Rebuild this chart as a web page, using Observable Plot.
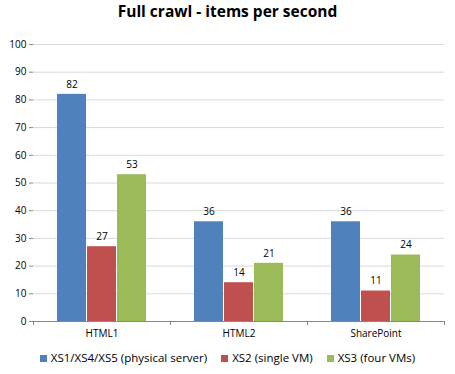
<!DOCTYPE html>
<html><head><meta charset="utf-8">
<script src="https://cdn.jsdelivr.net/npm/d3@7"></script>
<script src="https://cdn.jsdelivr.net/npm/@observablehq/plot@0.6"></script>
<style>
body{margin:0;background:#fff;font-family:"Open Sans",sans-serif;}
#wrap{width:455px;height:374px;position:relative;}
#title{height:34px;line-height:40px;text-align:center;font:bold 15.5px "Open Sans",sans-serif;color:#000;}
#legend{display:flex;justify-content:center;gap:14px;font:11.5px "Open Sans",sans-serif;color:#000;margin-top:9px;}
#legend span.sw{display:inline-block;width:7px;height:7px;margin-right:4px;vertical-align:0px;}
svg{display:block;}
</style></head><body>
<div id="wrap"><div id="title">Full crawl - items per second</div><div id="chart"></div><div id="legend"></div></div>
<script>
const groups = ["HTML1", "HTML2", "SharePoint"];
const series = ["XS1/XS4/XS5 (physical server)", "XS2 (single VM)", "XS3 (four VMs)"];
const colors = ["#4F81BD", "#C0504D", "#9BBB59"];
const physical = [82, 36, 36];
const singleVM = [27, 14, 11];
const fourVMs = [53, 21, 24];
const yTicks = [0,10,20,30,40,50,60,70,80,90,100];

const values = [physical, singleVM, fourVMs];
const data = [];
groups.forEach((g, gi) => series.forEach((s, si) => data.push({group: g, series: s, value: values[si][gi]})));

const W = 455, ml = 33, mr = 11;
const band = (W - ml - mr) / groups.length;

const chart = Plot.plot({
  width: W, height: 307,
  marginLeft: ml, marginRight: mr, marginTop: 10, marginBottom: 20,
  style: {fontFamily: "Open Sans, sans-serif", fontSize: "10px", color: "#000"},
  fx: {domain: groups, padding: 0, label: null, axis: null},
  x: {domain: series, paddingInner: 0.03, paddingOuter: 0.75, axis: null},
  y: {domain: [0, 100], label: null},
  color: {domain: series, range: colors},
  marks: [
    Plot.ruleY(yTicks, {y: d => d, stroke: "#d9d9d9"}),
    Plot.barY(data, {fx: "group", x: "series", y: "value", fill: "series"}),
    Plot.text(data, {fx: "group", x: "series", y: "value", text: d => String(d.value), dy: -10, fontSize: 10, fill: "#000"}),
    Plot.ruleY([0], {stroke: "#888"}),
    Plot.ruleX([groups[0]], {fx: d => d, y1: 0, y2: 100, dx: -band / 2, stroke: "#888"}),
    Plot.axisY({ticks: yTicks, tickSize: 4, tickPadding: 3, stroke: "#888", fontSize: 10}),
    Plot.axisFx({anchor: "bottom", tickSize: 0, tickPadding: 8, fontSize: 10, label: null}),
    Plot.axisFx({anchor: "bottom", tickSize: 4, text: null, dx: -band / 2, stroke: "#888", label: null}),
    Plot.axisFx({anchor: "bottom", ticks: [groups[groups.length - 1]], tickSize: 4, text: null, dx: band / 2, stroke: "#888", label: null})
  ]
});
document.getElementById("chart").appendChild(chart);

const leg = document.getElementById("legend");
series.forEach((s, i) => {
  const el = document.createElement("div");
  el.innerHTML = `<span class="sw" style="background:${colors[i]}"></span>${s}`;
  leg.appendChild(el);
});
</script>
</body></html>
